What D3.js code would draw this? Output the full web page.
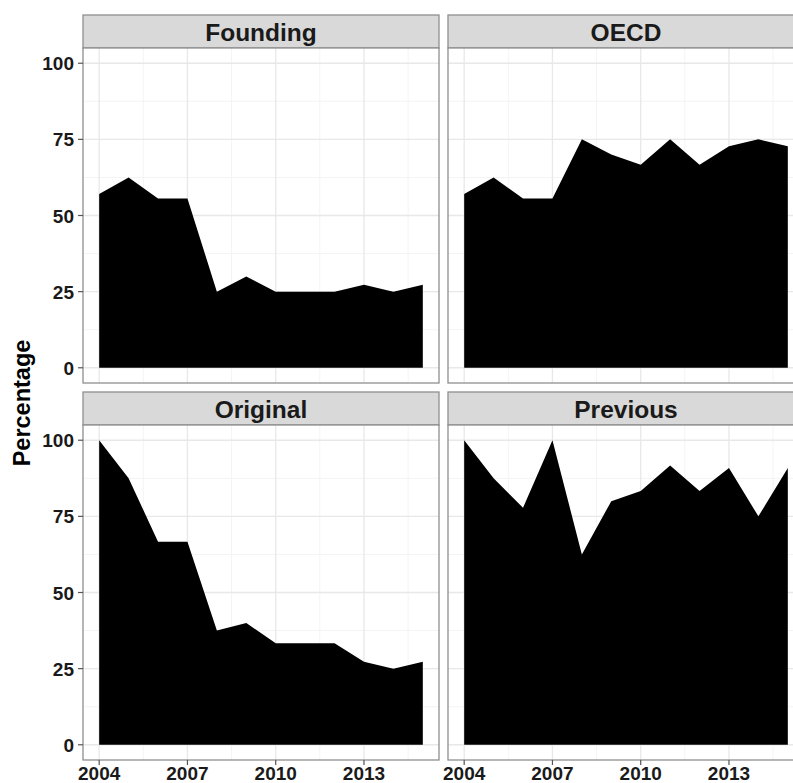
<!DOCTYPE html>
<html>
<head>
<meta charset="utf-8">
<script src="https://cdn.jsdelivr.net/npm/d3@7"></script>
<style>
  html, body { margin: 0; padding: 0; background: #fff; }
  svg { display: block; }
  text { font-family: "Liberation Sans", Arial, Helvetica, sans-serif; font-weight: bold; }
</style>
</head>
<body>
<svg id="chart" width="793" height="783"></svg>
<script>
const years = [2004, 2005, 2006, 2007, 2008, 2009, 2010, 2011, 2012, 2013, 2014, 2015];
const panels = ["Founding", "OECD", "Original", "Previous"];
const founding = [57.1, 62.5, 55.6, 55.6, 25, 30, 25, 25, 25, 27.3, 25, 27.3];
const oecd     = [57.1, 62.5, 55.6, 55.6, 75, 70, 66.7, 75, 66.7, 72.7, 75, 72.7];
const original = [100, 87.5, 66.7, 66.7, 37.5, 40, 33.3, 33.3, 33.3, 27.3, 25, 27.3];
const previous = [100, 87.5, 77.8, 100, 62.5, 80, 83.3, 91.7, 83.3, 90.9, 75, 90.9];
const seriesValues = [founding, oecd, original, previous];
const yTicks = [0, 25, 50, 75, 100];
const yMinor = [12.5, 37.5, 62.5, 87.5];
const xTicks = [2004, 2007, 2010, 2013];
const xMinor = [2005.5, 2008.5, 2011.5, 2014.5];
const yLabel = "Percentage";

const svg = d3.select("#chart");
const colX = [83, 448];
const pw = 356;
const stripTop = [15, 392];
const stripH = 33;
const ph = 335;
const borderCol = "#8f8f8f";

const x = d3.scaleLinear().domain([2003.45, 2015.55]).range([0, pw]);
const y = d3.scaleLinear().domain([-5, 105]).range([ph, 0]);

panels.forEach((name, i) => {
  const col = i % 2, row = Math.floor(i / 2);
  const px = colX[col];
  const sy = stripTop[row];
  const py = sy + stripH;
  const vals = seriesValues[i];

  // strip
  const s = svg.append("g").attr("transform", `translate(${px},${sy})`);
  s.append("rect").attr("width", pw).attr("height", stripH)
    .attr("fill", "#d9d9d9").attr("stroke", borderCol).attr("stroke-width", 1.3);
  s.append("text")
    .attr("x", pw / 2).attr("y", 26)
    .attr("text-anchor", "middle").attr("font-size", 24.5).attr("fill", "#1a1a1a")
    .text(name);

  const g = svg.append("g").attr("transform", `translate(${px},${py})`);
  g.append("rect").attr("width", pw).attr("height", ph).attr("fill", "#fff");
  // minor grid
  yMinor.forEach(v => g.append("line").attr("x1", 0).attr("x2", pw)
    .attr("y1", y(v)).attr("y2", y(v)).attr("stroke", "#f4f4f4").attr("stroke-width", 1));
  xMinor.forEach(v => g.append("line").attr("y1", 0).attr("y2", ph)
    .attr("x1", x(v)).attr("x2", x(v)).attr("stroke", "#f4f4f4").attr("stroke-width", 1));
  // major grid
  yTicks.forEach(v => g.append("line").attr("x1", 0).attr("x2", pw)
    .attr("y1", y(v)).attr("y2", y(v)).attr("stroke", "#e8e8e8").attr("stroke-width", 1.3));
  xTicks.forEach(v => g.append("line").attr("y1", 0).attr("y2", ph)
    .attr("x1", x(v)).attr("x2", x(v)).attr("stroke", "#e8e8e8").attr("stroke-width", 1.3));

  const data = years.map((yr, k) => ({ yr, v: vals[k] }));
  const area = d3.area().x(d => x(d.yr)).y0(y(0)).y1(d => y(d.v));
  g.append("path").datum(data).attr("d", area).attr("fill", "#000");

  g.append("rect").attr("width", pw).attr("height", ph)
    .attr("fill", "none").attr("stroke", borderCol).attr("stroke-width", 1.3);

  if (col === 0) {
    yTicks.forEach(v => {
      g.append("line").attr("x1", -5).attr("x2", 0).attr("y1", y(v)).attr("y2", y(v))
        .attr("stroke", "#555").attr("stroke-width", 1.2);
      g.append("text")
        .attr("x", -9).attr("y", y(v) + 7)
        .attr("text-anchor", "end").attr("font-size", 19).attr("fill", "#1a1a1a")
        .text(v);
    });
  }
  if (row === 1) {
    xTicks.forEach(v => {
      g.append("line").attr("y1", ph).attr("y2", ph + 5).attr("x1", x(v)).attr("x2", x(v))
        .attr("stroke", "#555").attr("stroke-width", 1.2);
      g.append("text")
        .attr("x", x(v)).attr("y", ph + 20)
        .attr("text-anchor", "middle").attr("font-size", 19).attr("fill", "#1a1a1a")
        .text(v);
    });
  }
});

svg.append("text")
  .attr("transform", "translate(30,403) rotate(-90)")
  .attr("text-anchor", "middle").attr("font-size", 23.5).attr("fill", "#000")
  .text(yLabel);
</script>
</body>
</html>
